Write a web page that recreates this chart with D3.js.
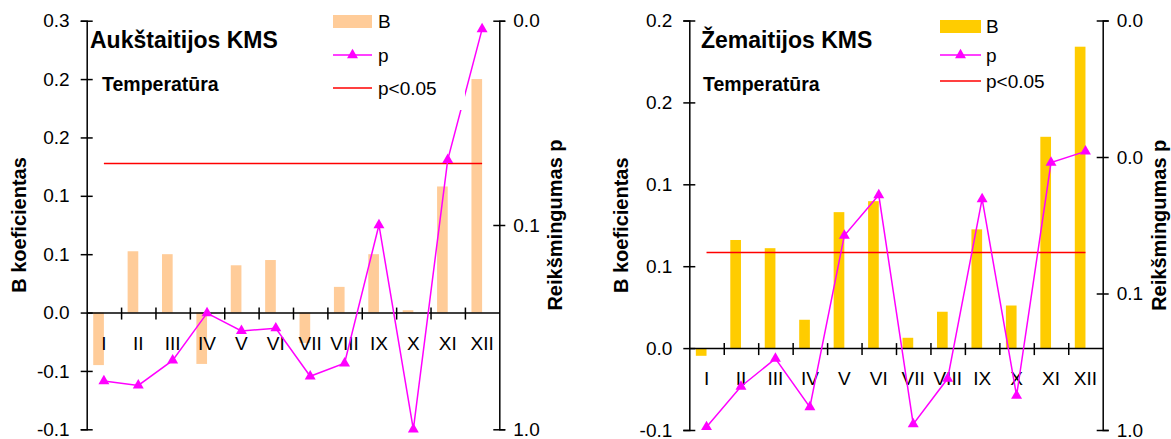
<!DOCTYPE html>
<html>
<head>
<meta charset="utf-8">
<script src="https://cdn.jsdelivr.net/npm/d3@7"></script>
<style>
  body { margin: 0; background: #fff; }
  svg { display: block; font-family: "Liberation Sans", Arial, sans-serif; }
</style>
</head>
<body>
<div class="render"></div>
<script>
"use strict";

var width = 1171;
var height = 439;

// data
var months = ["I", "II", "III", "IV", "V", "VI", "VII", "VIII", "IX", "X", "XI", "XII"];
var bAuk = [-0.045, 0.0525, 0.050, -0.044, 0.0405, 0.045, -0.026, 0.022, 0.050, 0.002, 0.108, 0.200];
var pAuk = [0.58, 0.61, 0.46, 0.27, 0.33, 0.32, 0.55, 0.475, 0.10, 1.0, 0.048, 0.011];
var bZem = [-0.0047, 0.066, 0.061, 0.0173, 0.083, 0.0897, 0.0063, 0.0222, 0.0725, 0.026, 0.129, 0.184];
var pZem = [0.95, 0.48, 0.30, 0.68, 0.0376, 0.019, 0.905, 0.42, 0.0203, 0.56, 0.011, 0.0091];
var pLimit = 0.05;

var bTicksAuk = [-0.1, -0.05, 0, 0.05, 0.1, 0.15, 0.2, 0.25];
var bLabelsAuk = ["-0.1", "-0.1", "0.0", "0.1", "0.1", "0.2", "0.2", "0.3"];
var pTicksAuk = [1, 0.1, 0.01];
var pLabelsAuk = ["1.0", "0.1", "0.0"];

var bTicksZem = [-0.05, 0, 0.05, 0.1, 0.15, 0.2];
var bLabelsZem = ["-0.1", "0.0", "0.1", "0.1", "0.2", "0.2"];
var pTicksZem = [1, 0.1, 0.01, 0.001];
var pLabelsZem = ["1.0", "0.1", "0.0", "0.0"];

var svg = d3.select('.render').append('svg').attr('width', width).attr('height', height);

var panels = [
   { title: "Aukštaitijos KMS", b: bAuk, p: pAuk, color: "#FFCC99",
     bDomain: [-0.1, 0.25], bTicks: bTicksAuk, bLabels: bLabelsAuk,
     pDomain: [1, 0.01], pTicks: pTicksAuk, pLabels: pLabelsAuk,
     x0: 86.7, x1: 499.3, top: 20.7, bottom: 429.3,
     titleX: 90, subX: 102,
     leg: { box: [328, 5, 137, 105], sw: [333, 15, 39, 13], x: 378, rows: [21.5, 55, 88] } },
   { title: "Žemaitijos KMS", b: bZem, p: pZem, color: "#FFCC00",
     bDomain: [-0.05, 0.2], bTicks: bTicksZem, bLabels: bLabelsZem,
     pDomain: [1, 0.001], pTicks: pTicksZem, pLabels: pLabelsZem,
     x0: 689.3, x1: 1102.7, top: 20.5, bottom: 430,
     titleX: 701, subX: 703,
     leg: { box: [935, 10, 135, 90], sw: [940, 20, 41, 13], x: 986, rows: [26.3, 55, 81] } }
];

var font = 19;
var tri = d3.symbol().type(d3.symbolTriangle).size(52);

panels.forEach(function (P) {
   var g = svg.append('g');

   var x = d3.scaleBand().domain(months).range([P.x0, P.x1]).padding(0);
   var edge = d3.scaleLinear().domain([0, 12]).range([P.x0, P.x1]);
   var y = d3.scaleLinear().domain(P.bDomain).range([P.bottom, P.top]);
   var yp = d3.scaleLog().domain(P.pDomain).range([P.bottom, P.top]);
   var step = x.step();
   var bw = step * 0.31;
   var cx = function (d, i) { return x(months[i]) + step / 2; };

   // bars
   g.selectAll('.bar').data(P.b).enter().append('rect')
      .attr('class', 'bar')
      .attr('x', function (d, i) { return cx(d, i) - bw; })
      .attr('width', bw)
      .attr('y', function (d) { return Math.min(y(d), y(0)); })
      .attr('height', function (d) { return Math.abs(y(d) - y(0)); })
      .attr('fill', P.color);

   // left axis
   var la = g.append('g').attr('transform', 'translate(' + P.x0 + ',0)')
      .call(d3.axisLeft(y).tickValues(P.bTicks).tickSizeOuter(0).tickSize(6).tickPadding(11)
         .tickFormat(function (d, i) { return P.bLabels[i]; }));
   // right axis
   var ra = g.append('g').attr('transform', 'translate(' + P.x1 + ',0)')
      .call(d3.axisRight(yp).tickValues(P.pTicks).tickSizeOuter(0).tickSize(6).tickPadding(8)
         .tickFormat(function (d, i) { return P.pLabels[i]; }));
   [la, ra].forEach(function (a) {
      a.attr('font-size', font).attr('font-family', null);
      a.select('.domain').attr('stroke', '#000').attr('stroke-width', 1.5);
      a.selectAll('.tick line').attr('x1', -6).attr('x2', 6).attr('stroke-width', 1.5);
      a.selectAll('.tick text').attr('fill', '#000');
   });

   // zero line with boundary ticks
   var xa = g.append('g').attr('transform', 'translate(0,' + y(0) + ')')
      .call(d3.axisBottom(edge).tickValues(d3.range(1, 12)).tickSizeOuter(0).tickFormat(''));
   xa.select('.domain').attr('stroke', '#000').attr('stroke-width', 1.5);
   xa.selectAll('.tick line').attr('y1', -5).attr('y2', 7).attr('stroke-width', 1.5);

   // month labels
   var ma = g.append('g').attr('transform', 'translate(0,' + y(0) + ')')
      .call(d3.axisBottom(x).tickSize(0).tickPadding(23.5));
   ma.attr('font-size', font).attr('font-family', null);
   ma.select('.domain').remove();
   ma.selectAll('.tick text').attr('fill', '#000');

   // p < 0.05 line
   g.append('line')
      .attr('x1', cx(null, 0)).attr('x2', cx(null, 11))
      .attr('y1', yp(pLimit)).attr('y2', yp(pLimit))
      .attr('stroke', '#FF0000').attr('stroke-width', 1.5);

   // p line + markers
   var line = d3.line().x(function (d, i) { return cx(d, i); }).y(function (d) { return yp(d); });
   g.append('path').datum(P.p).attr('d', line)
      .attr('fill', 'none').attr('stroke', '#FF00FF').attr('stroke-width', 1.5);
   g.selectAll('.mk').data(P.p).enter().append('path')
      .attr('class', 'mk')
      .attr('d', tri)
      .attr('transform', function (d, i) { return 'translate(' + cx(d, i) + ',' + yp(d) + ')'; })
      .attr('fill', '#FF00FF');

   // titles
   g.append('text').attr('x', P.titleX).attr('y', 48)
      .attr('font-size', 23).attr('font-weight', 'bold').text(P.title);
   g.append('text').attr('x', P.subX).attr('y', 90.7)
      .attr('font-size', 19.5).attr('font-weight', 'bold').text('Temperatūra');

   var midY = (P.top + P.bottom) / 2;
   g.append('text')
      .attr('transform', 'translate(' + (P.x0 - 68) + ',' + midY + ') rotate(-90)')
      .attr('text-anchor', 'middle').attr('dy', '0.35em')
      .attr('font-size', 20).attr('font-weight', 'bold').text('B koeficientas');
   g.append('text')
      .attr('transform', 'translate(' + (P.x1 + 56) + ',' + midY + ') rotate(-90)')
      .attr('text-anchor', 'middle').attr('dy', '0.35em')
      .attr('font-size', 20).attr('font-weight', 'bold').text('Reikšmingumas p');

   // legend
   var L = P.leg;
   var lg = g.append('g');
   lg.append('rect').attr('x', L.box[0]).attr('y', L.box[1]).attr('width', L.box[2]).attr('height', L.box[3])
      .attr('fill', '#fff');
   lg.append('rect').attr('x', L.sw[0]).attr('y', L.sw[1]).attr('width', L.sw[2]).attr('height', L.sw[3])
      .attr('fill', P.color);
   lg.append('line').attr('x1', L.sw[0]).attr('x2', L.sw[0] + L.sw[2]).attr('y1', L.rows[1]).attr('y2', L.rows[1])
      .attr('stroke', '#FF00FF').attr('stroke-width', 1.5);
   lg.append('path').attr('d', tri)
      .attr('transform', 'translate(' + (L.sw[0] + L.sw[2] / 2) + ',' + L.rows[1] + ')')
      .attr('fill', '#FF00FF');
   lg.append('line').attr('x1', L.sw[0]).attr('x2', L.sw[0] + L.sw[2]).attr('y1', L.rows[2]).attr('y2', L.rows[2])
      .attr('stroke', '#FF0000').attr('stroke-width', 1.5);
   ["B", "p", "p<0.05"].forEach(function (t, i) {
      lg.append('text').attr('x', L.x).attr('y', L.rows[i]).attr('dy', '0.35em')
         .attr('font-size', font).text(t);
   });
});
</script>
</body>
</html>
